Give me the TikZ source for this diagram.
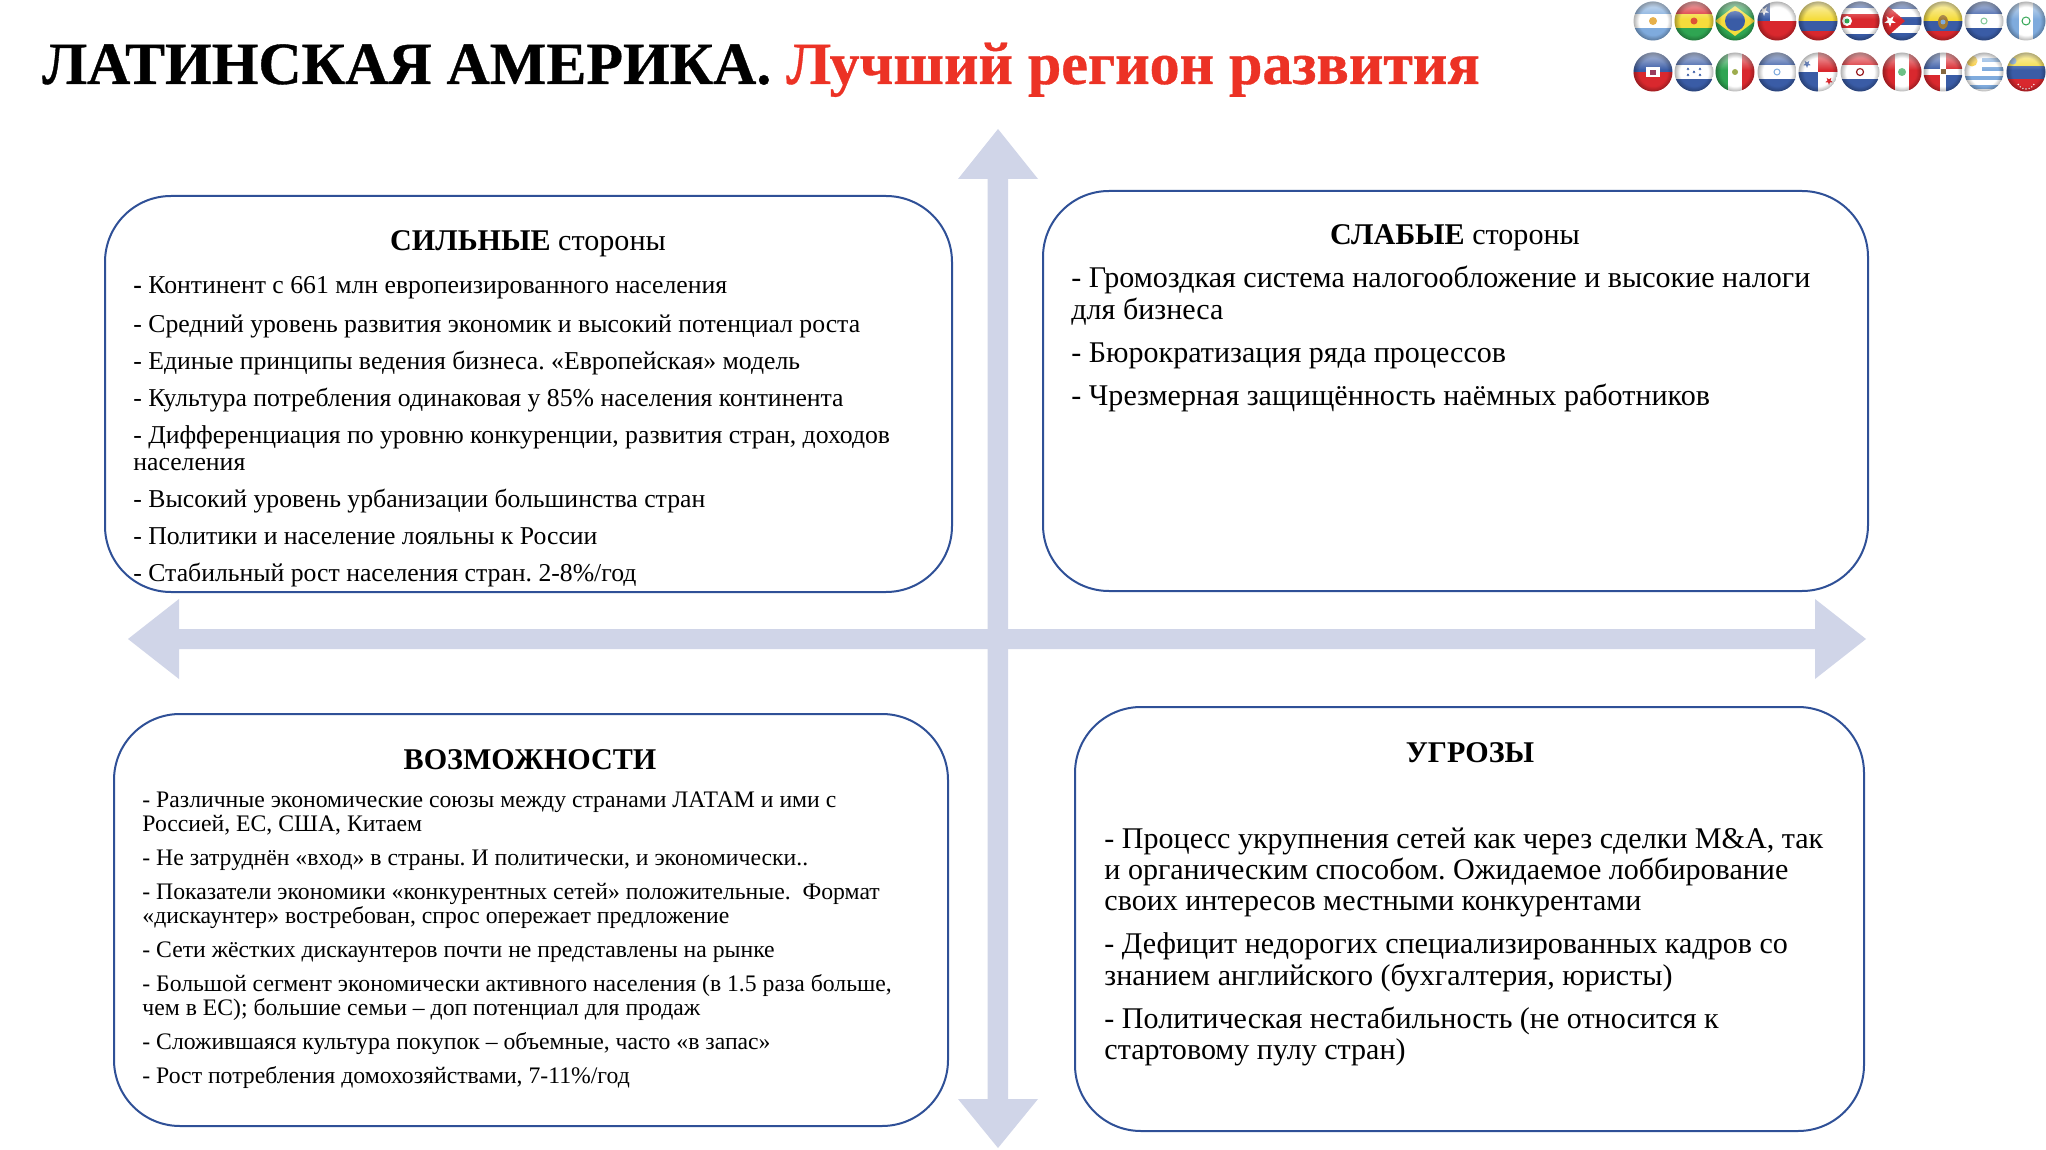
\documentclass[tikz,border=0pt]{standalone}
\usepackage{fontspec}
\setmainfont{Liberation Serif}
\newfontfamily\titlefont[BoldFeatures={FakeBold=0.6}]{Liberation Serif}
\usetikzlibrary{fadings,calc}
\frenchspacing
\definecolor{boxline}{HTML}{2F5097}
\definecolor{axisfill}{HTML}{D0D5E8}
\definecolor{titlered}{HTML}{EC3225}
\definecolor{fblue}{HTML}{3A5CA6}
\definecolor{fsky}{HTML}{7FABDD}
\definecolor{fred}{HTML}{D9282E}
\definecolor{fyellow}{HTML}{F5DC3C}
\definecolor{fgreen}{HTML}{2FA552}
\definecolor{fgold}{HTML}{E7B04A}
\newcommand{\fsz}[1]{\fontsize{#1}{#1}\selectfont}
\tikzset{
  swot/.style={draw=boxline,line width=1pt,fill=white,rounded corners=33pt},
  axisarrow/.style={fill=axisfill,draw=none},
  lineA/.style={anchor=base west,inner sep=0pt,font=\fsz{12.86}},
  lineB/.style={anchor=base west,inner sep=0pt,font=\fsz{15.03}},
  lineC/.style={anchor=base west,inner sep=0pt,font=\fsz{11.85}},
  heading/.style={anchor=base,inner sep=0pt,font=\fsz{15.05}},
}
\pgfdeclareradialshading{edgeshade}{\pgfpointorigin}{color(0bp)=(black);color(18bp)=(black);color(25bp)=(black!70!white);color(50bp)=(black!70!white)}
\pgfdeclarefading{edgefade}{\pgfuseshading{edgeshade}}
\tikzfading[name=topglow,top color=transparent!35,bottom color=transparent!100]
\newcommand{\fstar}[4]{\fill[#4] ($(#1,#2)+(90:#3)$) -- ($(#1,#2)+(126:#3*0.4)$) -- ($(#1,#2)+(162:#3)$) -- ($(#1,#2)+(198:#3*0.4)$) -- ($(#1,#2)+(234:#3)$) -- ($(#1,#2)+(270:#3*0.4)$) -- ($(#1,#2)+(306:#3)$) -- ($(#1,#2)+(342:#3*0.4)$) -- ($(#1,#2)+(18:#3)$) -- ($(#1,#2)+(54:#3*0.4)$) -- cycle;}
\newcommand{\hband}[3]{\fill[#3] (-21,#1) rectangle (21,#2);}
\newcommand{\vband}[3]{\fill[#3] (#1,-21) rectangle (#2,21);}
\newcommand{\flagball}[3]{%
 \begin{scope}[shift={(#1,#2)}]
  \begin{scope}
   \clip (0,0) circle (19.5);
   #3
   \fill[white,path fading=topglow] (-20,-20) rectangle (20,-2);
   \fill[black,path fading=edgefade] (0,0) circle (19.5);
  \end{scope}
 \end{scope}}
\begin{document}
\begin{tikzpicture}[x=0.5pt,y=-0.5pt]
\useasboundingbox (0,0) rectangle (2046,1150);
\fill[white] (0,0) rectangle (2046,1150);
\node[anchor=base west,inner sep=0pt,font=\fsz{29.97}\titlefont\bfseries] (title) at (42,84) {ЛАТИНСКАЯ АМЕРИКА. \textcolor{titlered}{Лучший регион развития}};
% flags, first row
\flagball{1653}{21}{\hband{-21}{21}{white}\hband{-21}{-7}{fsky}\hband{7}{21}{fsky}\fill[fgold] (0,0) circle (4);}
\flagball{1694}{21}{\hband{-21}{-7}{fred}\hband{-7}{7}{fyellow}\hband{7}{21}{fgreen}\fill[fred!70!fgold] (0,0) circle (3.5);}
\flagball{1735}{21}{\hband{-21}{21}{fgreen}\fill[fyellow] (-20,0) -- (0,-15) -- (20,0) -- (0,15) -- cycle;\fill[fblue] (0,0) circle (10);}
\flagball{1777}{21}{\hband{-21}{0}{white}\hband{0}{21}{fred}\fill[fblue] (-21,-21) rectangle (-7,0);\fstar{-13}{-10}{5}{white}}
\flagball{1818}{21}{\hband{-21}{0}{fyellow}\hband{0}{10}{fblue}\hband{10}{21}{fred}}
\flagball{1860}{21}{\hband{-21}{21}{fblue}\hband{-13}{13}{white}\hband{-7}{7}{fred}\fill[white] (-13,0) circle (5);\fill[fgreen] (-13,0) circle (2.5);}
\flagball{1902}{21}{\hband{-21}{21}{white}\hband{-21}{-12}{fblue}\hband{-4}{4}{fblue}\hband{12}{21}{fblue}\fill[fred] (-21,-21) -- (3,0) -- (-21,21) -- cycle;\fstar{-12}{0}{6}{white}}
\flagball{1943}{21}{\hband{-21}{0}{fyellow}\hband{0}{10}{fblue}\hband{10}{21}{fred}\fill[fgold!70!black] (0,1) ellipse (5 and 7);\fill[fsky] (0,1) circle (2.5);}
\flagball{1984}{21}{\hband{-21}{21}{white}\hband{-21}{-7}{fblue}\hband{7}{21}{fblue}\draw[fgreen!60!white,line width=0.5pt] (0,0) circle (3);}
\flagball{2026}{21}{\vband{-21}{21}{white}\vband{-21}{-7}{fsky}\vband{7}{21}{fsky}\draw[fgreen,line width=0.5pt] (0,0) circle (4);}
% flags, second row
\flagball{1653}{72}{\hband{-21}{0}{fblue}\hband{0}{21}{fred}\fill[white] (-7,-5) rectangle (7,5);\fill[fred!60!fblue] (-3,-2) rectangle (3,3);}
\flagball{1694}{72}{\hband{-21}{21}{white}\hband{-21}{-7}{fblue}\hband{7}{21}{fblue}\fstar{0}{0}{1.6}{fblue}\fstar{-6}{-3}{1.6}{fblue}\fstar{6}{-3}{1.6}{fblue}\fstar{-6}{3}{1.6}{fblue}\fstar{6}{3}{1.6}{fblue}}
\flagball{1735}{72}{\vband{-21}{21}{white}\vband{-21}{-7}{fgreen}\vband{7}{21}{fred}\fill[fgold!60!fgreen] (0,0) circle (3);}
\flagball{1777}{72}{\hband{-21}{21}{white}\hband{-21}{-7}{fblue}\hband{7}{21}{fblue}\draw[fsky,line width=0.5pt] (0,0) circle (3);}
\flagball{1818}{72}{\fill[white] (-21,-21) rectangle (0,0);\fill[fred] (0,-21) rectangle (21,0);\fill[fblue] (-21,0) rectangle (0,21);\fill[white] (0,0) rectangle (21,21);\fstar{-11}{-8}{4}{fblue}\fstar{11}{9}{4}{fred}}
\flagball{1860}{72}{\hband{-21}{-7}{fred}\hband{-7}{7}{white}\hband{7}{21}{fblue}\draw[fred!70!black,line width=0.6pt] (0,0) circle (3.5);}
\flagball{1902}{72}{\vband{-21}{21}{white}\vband{-21}{-7}{fred}\vband{7}{21}{fred}\fill[fgreen!70!white] (0,0) circle (4);}
\flagball{1943}{72}{\fill[white] (-21,-21) rectangle (21,21);\fill[fblue] (-21,-21) rectangle (-3,-3);\fill[fred] (3,-21) rectangle (21,-3);\fill[fred] (-21,3) rectangle (-3,21);\fill[fblue] (3,3) rectangle (21,21);\fill[fgreen!50!fred] (-2.5,-2.5) rectangle (2.5,2.5);}
\flagball{1984}{72}{\hband{-21}{21}{white}\hband{-14}{-10}{fsky}\hband{-5}{-1}{fsky}\hband{4}{8}{fsky}\hband{13}{17}{fsky}\fill[white] (-21,-21) rectangle (-2,0);\fill[fyellow!80!orange] (-12,-11) circle (5.5);}
\flagball{2026}{72}{\hband{-21}{-6}{fyellow}\hband{-6}{7}{fblue}\hband{7}{21}{fred}\fill[fsky] (-13,-11) circle (3.5);\foreach \a in {30,50,...,150}{\fill[white] ($(0,8)+(\a:9)$) circle (0.8);}}
% axes
\fill[axisarrow] (987.5,179) -- (958,179) -- (998,129) -- (1038,179) -- (1008,179) -- (1008,1099) -- (1038,1099) -- (998,1148) -- (958,1099) -- (987.5,1099) -- cycle;
\fill[axisarrow] (179,629) -- (179,599) -- (128,639) -- (179,679) -- (179,649) -- (1815,649) -- (1815,679) -- (1866,639) -- (1815,599) -- (1815,629) -- cycle;
\draw[swot] (105,196) rectangle (952,592);
\draw[swot] (1043,191) rectangle (1868,591);
\draw[swot] (114,714) rectangle (948,1126);
\draw[swot] (1075,707) rectangle (1864,1131);
\node[heading] (t1) at (528,251) {\textbf{СИЛЬНЫЕ} стороны};
\node[lineA] (a1) at (133,293) {\textbf{-} Континент с 661 млн европеизированного населения};
\node[lineA] (a2) at (133,333) {- Средний уровень развития экономик и высокий потенциал роста};
\node[lineA] (a3) at (133,370) {- Единые принципы ведения бизнеса. «Европейская» модель};
\node[lineA] (a4) at (133,406) {- Культура потребления одинаковая у 85\% населения континента};
\node[lineA] (a5) at (133,443) {- Дифференциация по уровню конкуренции, развития стран, доходов};
\node[lineA] (a6) at (133,470) {населения};
\node[lineA] (a7) at (133,507) {- Высокий уровень урбанизации большинства стран};
\node[lineA] (a8) at (133,544) {- Политики и население лояльны к России};
\node[lineA] (a9) at (133,581) {- Стабильный рост населения стран. 2-8\%/год};
\node[heading] (t2) at (1455,245) {\textbf{СЛАБЫЕ} стороны};
\node[lineB] (b1) at (1071,288) {- Громоздкая система налогообложение и высокие налоги};
\node[lineB] (b2) at (1071,320) {для бизнеса};
\node[lineB] (b3) at (1071,363) {- Бюрократизация ряда процессов};
\node[lineB] (b4) at (1071,405) {- Чрезмерная защищённость наёмных работников};
\node[heading] (t3) at (530,769) {\textbf{ВОЗМОЖНОСТИ}};
\node[lineC] (c1) at (142,807) {- Различные экономические союзы между странами ЛАТАМ и ими с};
\node[lineC] (c2) at (142,831) {Россией, ЕС, США, Китаем};
\node[lineC] (c3) at (142,865) {- Не затруднён «вход» в страны. И политически, и экономически..};
\node[lineC] (c4) at (142,899) {- Показатели экономики «конкурентных сетей» положительные.\ \ Формат};
\node[lineC] (c5) at (142,923) {«дискаунтер» востребован, спрос опережает предложение};
\node[lineC] (c6) at (142,957) {- Сети жёстких дискаунтеров почти не представлены на рынке};
\node[lineC] (c7) at (142,991) {- Большой сегмент экономически активного населения (в 1.5 раза больше,};
\node[lineC] (c8) at (142,1015) {чем в ЕС); большие семьи – доп потенциал для продаж};
\node[lineC] (c9) at (142,1049) {- Сложившаяся культура покупок – объемные, часто «в запас»};
\node[lineC] (c10) at (142,1083) {- Рост потребления домохозяйствами, 7-11\%/год};
\node[heading] (t4) at (1470,762) {\textbf{УГРОЗЫ}};
\node[lineB] (d1) at (1104,848) {- Процесс укрупнения сетей как через сделки M\&A, так};
\node[lineB] (d2) at (1104,879) {и органическим способом. Ожидаемое лоббирование};
\node[lineB] (d3) at (1104,910) {своих интересов местными конкурентами};
\node[lineB] (d4) at (1104,953) {- Дефицит недорогих специализированных кадров со};
\node[lineB] (d5) at (1104,985) {знанием английского (бухгалтерия, юристы)};
\node[lineB] (d6) at (1104,1028) {- Политическая нестабильность (не относится к};
\node[lineB] (d7) at (1104,1059) {стартовому пулу стран)};
\end{tikzpicture}
\end{document}
